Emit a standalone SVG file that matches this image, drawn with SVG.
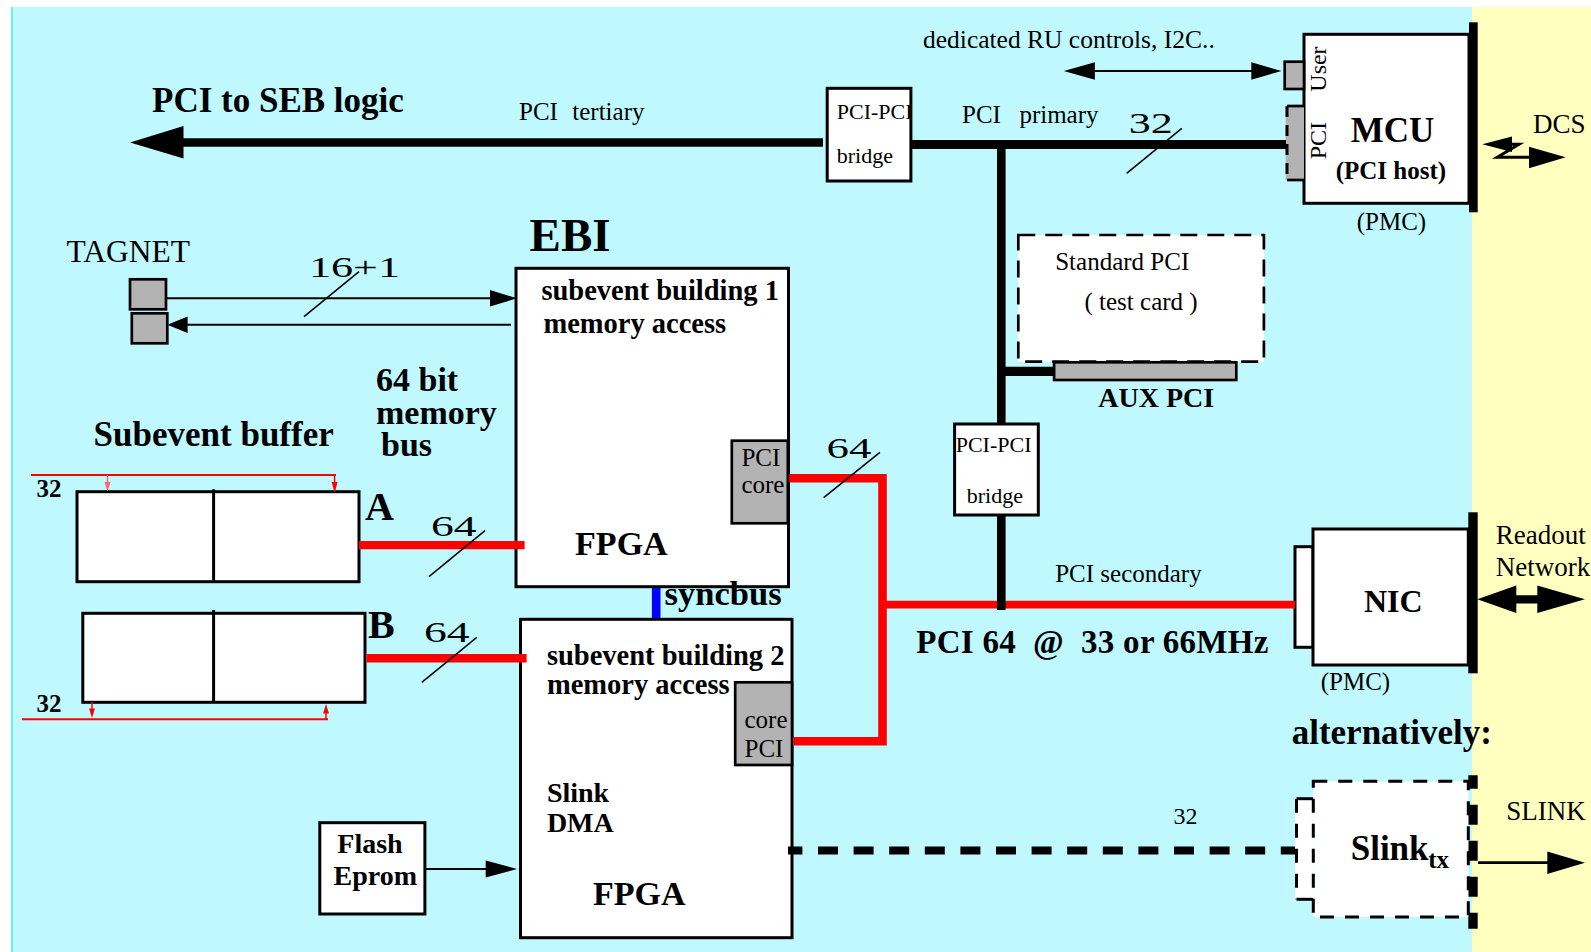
<svg xmlns="http://www.w3.org/2000/svg" width="1591" height="952" viewBox="0 0 1591 952">
<style>
.t{font-family:"Liberation Serif","Times New Roman",serif;fill:#000}
.b{font-weight:bold}
.box{fill:#fff;stroke:#000;stroke-width:3}
.gray{fill:#b3b3b3;stroke:#000;stroke-width:2.7}
.bar{fill:#000}
.thin{stroke:#000;stroke-width:2;fill:none}
.slash{stroke:#000;stroke-width:1.5;fill:none}
.ah{fill:#000}
.red{stroke:#f00;fill:none}
.blk{stroke:#000;fill:none}
.dash{fill:#fff;stroke:#000;stroke-width:3;stroke-dasharray:14 11}
</style>
<g id="background">
<rect x="0" y="0" width="1591" height="952" fill="#fff"/>
<rect x="11.5" y="7" width="1461" height="945" fill="#bff9ff"/>
<rect x="1472" y="7" width="119" height="945" fill="#ffffbf"/>
<line x1="12" y1="7" x2="12" y2="952" stroke="#4fe9f5" stroke-width="1.5"/>
</g>

<g id="bridge1">
<rect class="box" x="827.2" y="88.3" width="83.7" height="92.7"/>
<text class="t" x="836.8" y="119" font-size="22">PCI-PCI</text>
<text class="t" x="836.8" y="163.3" font-size="22">bridge</text>
</g>

<g id="mcu">
<rect class="bar" x="1469" y="22.3" width="8.7" height="190"/>
<rect class="box" x="1304" y="34.3" width="165" height="169"/>
<rect class="gray" x="1284.7" y="61.7" width="19.3" height="27.3"/>
<rect x="1285.7" y="106" width="18.3" height="74" fill="#b3b3b3"/>
<polyline class="blk" stroke-width="2.7" points="1304,106 1287,106"/>
<polyline class="blk" stroke-width="2.7" points="1304,180 1287,180"/>
<line x1="1287" y1="106" x2="1287" y2="180" class="blk" stroke-width="3" stroke-dasharray="11 8"/>
<text class="t" font-size="24" transform="translate(1326,91.7) rotate(-90)">User</text>
<text class="t" font-size="24" transform="translate(1326,159.3) rotate(-90)">PCI</text>
<text class="t b" x="1350.7" y="141.7" font-size="35">MCU</text>
<text class="t b" x="1335.7" y="179" font-size="25">(PCI host)</text>
</g>

<g id="tagnet">
<rect class="gray" x="130" y="279.3" width="36" height="30"/>
<rect class="gray" x="131.8" y="313.3" width="35.5" height="30"/>
</g>

<g id="ebi-fpga1">
<rect class="box" x="516" y="268.3" width="272.5" height="318.4"/>
<text class="t b" x="541.4" y="300" font-size="28.5">subevent building 1</text>
<text class="t b" x="543.4" y="332.7" font-size="28.5">memory access</text>
<text class="t b" x="575.1" y="555" font-size="34">FPGA</text>
<rect class="gray" x="731.8" y="440.7" width="56" height="82.6"/>
<text class="t" x="741.4" y="465.7" font-size="25">PCI</text>
<text class="t" x="741.4" y="493.3" font-size="25">core</text>
</g>

<g id="ebi-fpga2">
<rect class="box" x="520.5" y="619.3" width="271.5" height="318.4"/>
<text class="t b" x="546.9" y="665" font-size="28.5">subevent building 2</text>
<text class="t b" x="546.9" y="694.3" font-size="28.5">memory access</text>
<rect class="gray" x="735.2" y="682.3" width="56.8" height="82.7"/>
<text class="t" x="744.5" y="728.3" font-size="25">core</text>
<text class="t" x="744.5" y="756.7" font-size="25">PCI</text>
<text class="t b" x="546.9" y="801.7" font-size="28">Slink</text>
<text class="t b" x="546.9" y="831.7" font-size="28">DMA</text>
<text class="t b" x="593" y="905" font-size="34">FPGA</text>
</g>

<g id="bufferA">
<rect class="box" x="77" y="491.7" width="282" height="90"/>
<line x1="213.6" y1="489.3" x2="213.6" y2="581.7" class="blk" stroke-width="3"/>
</g>
<g id="bufferB">
<rect class="box" x="82.8" y="613.3" width="282.2" height="89"/>
<line x1="213.6" y1="610" x2="213.6" y2="702.3" class="blk" stroke-width="3"/>
</g>

<g id="flash">
<rect class="box" x="319.8" y="822.7" width="105.1" height="91.3"/>
<text class="t b" x="337.3" y="853.3" font-size="28">Flash</text>
<text class="t b" x="333.6" y="885" font-size="28">Eprom</text>
</g>

<g id="stdpci">
<rect x="1018.3" y="235" width="245.6" height="126.7" fill="#fff" stroke="#000" stroke-width="2.7" stroke-dasharray="17 10"/>
<text class="t" x="1055.2" y="270" font-size="25">Standard PCI</text>
<text class="t" x="1084.5" y="310" font-size="25">( test card )</text>
<rect class="gray" x="1054.1" y="362.3" width="182.2" height="17.7"/>
</g>

<g id="nic">
<rect class="bar" x="1468.3" y="512.3" width="9.4" height="161"/>
<rect class="box" x="1295" y="546.7" width="18" height="100.6"/>
<rect class="box" x="1313" y="529" width="155.3" height="136"/>
<text class="t b" x="1364" y="611.7" font-size="32">NIC</text>
</g>

<g id="slinktx">
<line x1="1473" y1="775.3" x2="1473" y2="928.7" class="blk" stroke-width="9.4" stroke-dasharray="20 16" stroke-dashoffset="6.6"/>
<rect x="1295" y="798.7" width="18.3" height="100.6" fill="#fff"/>
<polyline class="blk" stroke-width="3" points="1313,798.7 1296.5,798.7"/>
<polyline class="blk" stroke-width="3" points="1313,899.3 1296.5,899.3"/>
<line x1="1296.5" y1="798.7" x2="1296.5" y2="899.3" class="blk" stroke-width="3" stroke-dasharray="14 11"/>
<rect class="dash" x="1313.3" y="781.3" width="155" height="135.7"/>
<text class="t b" x="1350.7" y="860.3" font-size="35">Slink</text>
<text class="t b" x="1428.3" y="868" font-size="25">tx</text>
</g>

<g id="connectors">
<!-- PCI tertiary bus -->
<line x1="182" y1="142.5" x2="823" y2="142.5" class="blk" stroke-width="8.4"/>
<polygon class="ah" points="130,142.5 183.5,126 183.5,158.5"/>
<!-- PCI primary -->
<line x1="911" y1="144.4" x2="1286" y2="144.4" class="blk" stroke-width="9"/>
<line x1="1001.3" y1="140" x2="1001.3" y2="424" class="blk" stroke-width="8.6"/>
<line x1="1001" y1="371.3" x2="1055" y2="371.3" class="blk" stroke-width="9.3"/>
<line x1="1126.6" y1="173.3" x2="1181.8" y2="128.3" class="slash"/>
<!-- RU controls -->
<line x1="1092" y1="71" x2="1254" y2="71" class="thin"/>
<polygon class="ah" points="1063.8,71 1094.9,62.2 1094.9,79.8"/>
<polygon class="ah" points="1281.5,71 1251.3,62.2 1251.3,79.8"/>
<!-- DCS -->
<polygon class="ah" points="1482.3,144.3 1512,136.5 1512,152"/>
<polyline class="blk" stroke-width="3" points="1510,144.3 1519,144.3 1497.3,157.3 1531,157.3"/>
<polygon class="ah" points="1529,146.7 1565.7,157.3 1529,168.3"/>
<!-- TAGNET -->
<line x1="166" y1="298.3" x2="492" y2="298.3" class="thin"/>
<polygon class="ah" points="490,290 517,298.3 490,306.6"/>
<line x1="186" y1="324.7" x2="511" y2="324.7" class="thin"/>
<polygon class="ah" points="167.3,324.7 187.6,316.5 187.6,333"/>
<line x1="304" y1="316.7" x2="359" y2="271.7" class="slash"/>
<!-- subevent buffer red lines -->
<line x1="31" y1="475" x2="336" y2="475" class="red" stroke-width="2"/>
<line x1="107.5" y1="475" x2="107.5" y2="484" stroke="#ff6666" stroke-width="1.5"/>
<polygon fill="#ff6666" points="104.5,482 110.5,482 107.5,491.5"/>
<line x1="334.6" y1="475" x2="334.6" y2="484" class="red" stroke-width="1.5"/>
<polygon fill="#f00" points="331.6,482 337.6,482 334.6,493"/>
<line x1="22" y1="719.3" x2="328" y2="719.3" class="red" stroke-width="2"/>
<line x1="92" y1="702" x2="92" y2="710" class="red" stroke-width="1.5"/>
<polygon fill="#f00" points="89,708.5 95,708.5 92,718"/>
<line x1="326" y1="719" x2="326" y2="712" class="red" stroke-width="1.5"/>
<polygon fill="#f00" points="323,713.5 329,713.5 326,704"/>
<!-- memory bus -->
<line x1="359" y1="545.2" x2="524.6" y2="545.2" class="red" stroke-width="8.3"/>
<line x1="429" y1="576.7" x2="485" y2="530.7" class="slash"/>
<line x1="366.5" y1="658.3" x2="526.6" y2="658.3" class="red" stroke-width="8.6"/>
<line x1="421.8" y1="682.3" x2="476.8" y2="637.3" class="slash"/>
<!-- syncbus -->
<line x1="656.2" y1="588" x2="656.2" y2="618" stroke="#00f" stroke-width="8.6"/>
<!-- PCI 64 red -->
<polyline class="red" stroke-width="8.6" stroke-linejoin="miter" points="789.2,478.3 882.5,478.3 882.5,741.3 793.5,741.3"/>
<line x1="882.5" y1="604.6" x2="1295" y2="604.6" class="red" stroke-width="7.8"/>
<line x1="823.7" y1="497.7" x2="879.9" y2="452.3" class="slash"/>
<line x1="1001.3" y1="515" x2="1001.3" y2="610" class="blk" stroke-width="8.6"/>
<!-- NIC readout -->
<polygon class="ah" points="1477.3,599.3 1516.3,585.6 1516.3,595.2 1537.3,595.2 1537.3,585.6 1585,599.3 1537.3,613 1537.3,603.5 1516.3,603.5 1516.3,613"/>
<!-- Flash -->
<line x1="426" y1="869" x2="488" y2="869" class="thin"/>
<polygon class="ah" points="485.7,860.5 517,869 485.7,877.5"/>
<!-- Slink dashed -->
<line x1="788" y1="850.5" x2="1295" y2="850.5" class="blk" stroke-width="8" stroke-dasharray="20 15.6" stroke-dashoffset="5.6"/>
<!-- SLINK out -->
<line x1="1478" y1="862.7" x2="1549" y2="862.7" class="blk" stroke-width="2.7"/>
<polygon class="ah" points="1547.3,851.5 1585,862.7 1547.3,873.9"/>
</g>

<g id="bridge2">
<rect class="box" x="954.6" y="424" width="83.7" height="91"/>
<text class="t" x="955.7" y="451.7" font-size="22">PCI-PCI</text>
<text class="t" x="966.7" y="503.3" font-size="22">bridge</text>
</g>

<g id="labels-free">
<text class="t b" x="152" y="112" font-size="35">PCI to SEB logic</text>
<text class="t" y="120" font-size="25"><tspan x="519">PCI</tspan><tspan x="572.3">tertiary</tspan></text>
<text class="t" y="123.3" font-size="25"><tspan x="962">PCI</tspan><tspan x="1019.4">primary</tspan></text>
<text class="t" x="1128.7" y="133.3" font-size="29" textLength="44" lengthAdjust="spacingAndGlyphs">32</text>
<text class="t" x="923" y="48.3" font-size="25.5">dedicated RU controls, I2C..</text>
<text class="t" x="1533" y="132.7" font-size="27">DCS</text>
<text class="t" x="66.6" y="261.7" font-size="31.5">TAGNET</text>
<text class="t" x="309" y="276.7" font-size="29" textLength="91" lengthAdjust="spacingAndGlyphs">16+1</text>
<text class="t b" font-size="34"><tspan x="376" y="390.7">64 bit</tspan><tspan x="376" y="424.3">memory</tspan><tspan x="381" y="456">bus</tspan></text>
<text class="t b" x="93.6" y="446" font-size="35">Subevent buffer</text>
<text class="t b" x="36.5" y="496.7" font-size="25">32</text>
<text class="t b" x="36.5" y="711.7" font-size="25">32</text>
<text class="t b" x="365" y="520" font-size="40">A</text>
<text class="t b" x="368" y="638" font-size="40">B</text>
<text class="t" x="431" y="536" font-size="29" textLength="45.6" lengthAdjust="spacingAndGlyphs">64</text>
<text class="t" x="424" y="641.5" font-size="29" textLength="45.6" lengthAdjust="spacingAndGlyphs">64</text>
<text class="t" x="826.5" y="458.3" font-size="29" textLength="44.8" lengthAdjust="spacingAndGlyphs">64</text>
<text class="t b" x="664.6" y="605" font-size="34.5">syncbus</text>
<text class="t" x="1055.2" y="581.7" font-size="25">PCI secondary</text>
<text class="t b" x="916.3" y="652.7" font-size="33" xml:space="preserve" textLength="352" lengthAdjust="spacing">PCI 64  @  33 or 66MHz</text>
<text class="t" x="1495.7" y="544.3" font-size="27">Readout</text>
<text class="t" x="1495.7" y="575.7" font-size="27">Network</text>
<text class="t b" x="1291.7" y="743.7" font-size="35">alternatively:</text>
<text class="t" x="1173.5" y="824.3" font-size="24">32</text>
<text class="t" x="1506.3" y="820.3" font-size="27">SLINK</text>
<text class="t" x="1356.7" y="230" font-size="25">(PMC)</text>
<text class="t" x="1320.7" y="690" font-size="25">(PMC)</text>
<text class="t b" x="1098.3" y="407.3" font-size="28">AUX PCI</text>
<text class="t b" x="529.6" y="250.7" font-size="47">EBI</text>
</g>
</svg>
